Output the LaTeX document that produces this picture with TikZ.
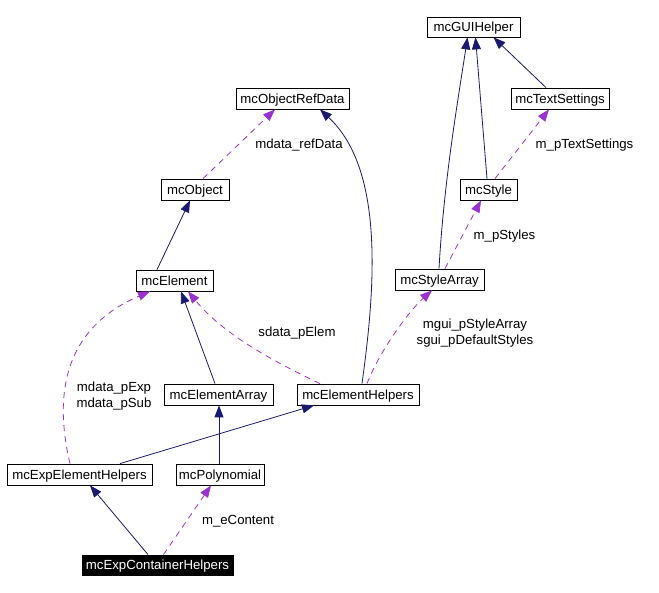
\documentclass[tikz,border=0pt]{standalone}
\usepackage{fontspec}
\setmainfont{Liberation Sans}
\usetikzlibrary{arrows.meta}
\definecolor{inh}{HTML}{191970}
\definecolor{use}{HTML}{9A32CD}
\begin{document}
\begin{tikzpicture}[x=1pt,y=-1pt,
  cls/.style={draw=black,line width=0.8pt,fill=white,inner sep=0pt,minimum height=21pt,text height=9.4pt,text depth=0pt,font=\fontsize{13.2}{15}\selectfont},
  focus/.style={cls,fill=black,text=white},
  inhline/.style={draw=inh,line width=0.8pt,-{Triangle[length=12pt,width=9pt]}},
  useline/.style={draw=use,line width=0.8pt,dash pattern=on 6pt off 5pt,-{Triangle[length=12pt,width=9pt]}},
  lbl/.style={inner sep=0pt,align=center,font=\fontsize{13.2}{16}\selectfont}]
\useasboundingbox[fill=white] (0,0) rectangle (659,593);
% classes
\node[cls,minimum width=93pt,minimum height=20pt] (gui) at (473.5,27) {mcGUIHelper};
\node[cls,minimum width=98pt] (txt) at (560,98.5) {mcTextSettings};
\node[cls,minimum width=57pt] (sty) at (488.5,189.5) {mcStyle};
\node[cls,minimum width=89pt] (sta) at (439.5,279.5) {mcStyleArray};
\node[cls,minimum width=113pt] (ord) at (292.5,98.5) {mcObjectRefData};
\node[cls,minimum width=68pt] (obj) at (195,189.5) {mcObject};
\node[cls,minimum width=77pt] (ele) at (174.5,280.5) {mcElement};
\node[cls,minimum width=109pt] (ela) at (218.5,394.5) {mcElementArray};
\node[cls,minimum width=122pt] (elh) at (358,394.5) {mcElementHelpers};
\node[cls,minimum width=145pt] (eeh) at (79.5,474.5) {mcExpElementHelpers};
\node[cls,minimum width=88pt] (pol) at (220,474.5) {mcPolynomial};
\node[focus,minimum width=151pt,minimum height=20pt] (ech) at (157.5,565) {mcExpContainerHelpers};
% inheritance
\draw[inhline] ([xshift=-17.5pt]ele.north) -- ([xshift=-5pt]obj.south);
\draw[inhline] ([xshift=-3.5pt]ela.north) -- ([xshift=6.5pt]ele.south);
\draw[inhline] ([xshift=4pt]elh.north) .. controls (375,290) and (385,170) .. ([xshift=27.5pt]ord.south);
\draw[inhline] ([xshift=40.5pt]eeh.north) -- ([xshift=-44pt]elh.south);
\draw[inhline] ([xshift=-1pt]pol.north) -- ([xshift=0.5pt]ela.south);
\draw[inhline] ([xshift=-9.5pt]ech.north) -- ([xshift=10.5pt]eeh.south);
\draw[inhline] ([xshift=-0.5pt]sta.north) .. controls (444,180) and (458,100) .. ([xshift=-6pt]gui.south);
\draw[inhline] ([xshift=-1.5pt]sty.north) -- ([xshift=2pt]gui.south);
\draw[inhline] ([xshift=-14pt]txt.north) -- ([xshift=20pt]gui.south);
% usage
\draw[useline] ([xshift=8pt]obj.north) -- ([xshift=-17.5pt]ord.south);
\draw[useline] ([xshift=6.5pt]sty.north) -- ([xshift=-11pt]txt.south);
\draw[useline] ([xshift=5.5pt]sta.north) -- ([xshift=-7.5pt]sty.south);
\draw[useline] ([xshift=9pt]elh.north) .. controls (380,350) and (410,310) .. ([xshift=-7.5pt]sta.south);
\draw[useline] ([xshift=-38pt]elh.north) .. controls (260,355) and (220,330) .. ([xshift=13.5pt]ele.south);
\draw[useline] ([xshift=-9.5pt]eeh.north) .. controls (55,400) and (60,330) .. ([xshift=-24.5pt]ele.south);
\draw[useline] ([xshift=6pt]ech.north) -- ([xshift=-9pt]pol.south);
% labels
\node[lbl] (l1) at (299,145) {mdata\_refData};
\node[lbl] (l2) at (584.5,145) {m\_pTextSettings};
\node[lbl] (l3) at (504.5,236) {m\_pStyles};
\node[lbl] (l4) at (475,333.5) {mgui\_pStyleArray\\sgui\_pDefaultStyles};
\node[lbl] (l5) at (297,333) {sdata\_pElem};
\node[lbl] (l6) at (114,396) {mdata\_pExp\\mdata\_pSub};
\node[lbl] (l7) at (238,521) {m\_eContent};
\end{tikzpicture}
\end{document}
